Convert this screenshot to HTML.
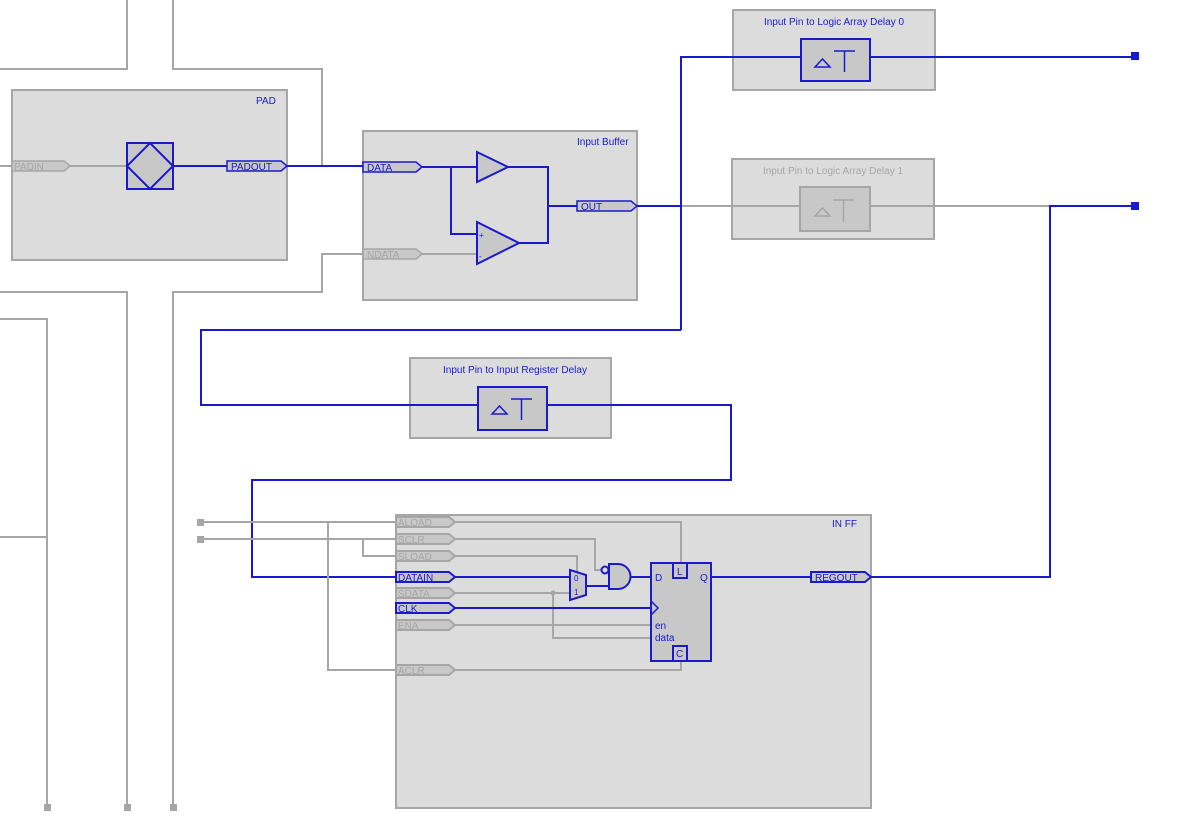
<!DOCTYPE html>
<html><head><meta charset="utf-8"><style>
html,body{margin:0;padding:0;background:#fff;}
svg{display:block;font-family:"Liberation Sans",sans-serif;}
.g{stroke:#a6a6a6;stroke-width:2;fill:none}
.b{stroke:#1a1acc;stroke-width:2;fill:none}
.box{fill:#dcdcdc;stroke:#a6a6a6;stroke-width:2}
.inb{fill:#c8c8c8;stroke:#1a1acc;stroke-width:2}
.ing{fill:#c8c8c8;stroke:#a6a6a6;stroke-width:2}
.tb{fill:#1a1acc;font-size:10px}
.tg{fill:#a6a6a6;font-size:10px}
</style></head><body>
<svg width="1200" height="838" viewBox="0 0 1200 838">
<!-- gray background wires -->
<polyline class="g" points="127,0 127,69 0,69"/>
<polyline class="g" points="173,0 173,69 322,69 322,166"/>
<polyline class="g" points="363,254 322,254 322,292 173,292 173,808"/>
<polyline class="g" points="0,292 127,292 127,808"/>
<polyline class="g" points="0,319 47,319 47,808"/>
<line class="g" x1="0" y1="537" x2="47" y2="537"/>

<!-- boxes first -->
<rect class="box" x="12" y="90" width="275" height="170"/>
<rect class="box" x="363" y="131" width="274" height="169"/>
<rect class="box" x="732" y="159" width="202" height="80"/>
<rect class="box" x="733" y="10" width="202" height="80"/>
<rect class="box" x="410" y="358" width="201" height="80"/>
<rect class="box" x="396" y="515" width="475" height="293"/>

<!-- PAD -->
<text class="tb" x="256" y="104">PAD</text>
<line class="g" x1="0" y1="166" x2="127" y2="166"/>
<polygon class="ing" points="12,161 64,161 70,166 64,171 12,171" style="stroke-width:1.5"/>
<text class="tg" x="14" y="170">PADIN</text>
<rect class="inb" x="127" y="143" width="46" height="46"/>
<polygon class="b" points="150,143 173,166 150,189 127,166"/>
<line class="b" x1="173" y1="166" x2="227" y2="166"/>
<polygon class="inb" points="227,161 281,161 287,166 281,171 227,171" style="stroke-width:1.5"/>
<text class="tb" x="231" y="170">PADOUT</text>
<line class="b" x1="287" y1="166" x2="363" y2="166"/>

<!-- Input Buffer -->
<text class="tb" x="577" y="145">Input Buffer</text>
<line class="g" x1="422" y1="254" x2="477" y2="254"/>
<polyline class="b" points="422,167 477,167"/>
<polyline class="b" points="451,167 451,234 477,234"/>
<polygon class="inb" points="363,162 416,162 422,167 416,172 363,172" style="stroke-width:1.5"/>
<text class="tb" x="367" y="171">DATA</text>
<polygon class="ing" points="363,249 416,249 422,254 416,259 363,259" style="stroke-width:1.5"/>
<text class="tg" x="367" y="258">NDATA</text>
<polygon class="inb" points="477,152 508,167 477,182"/>
<polygon class="inb" points="477,222 519,243 477,264"/>
<text class="tb" x="479" y="238" style="font-size:8px">+</text>
<text class="tb" x="479" y="259" style="font-size:8px">-</text>
<polyline class="b" points="508,167 548,167 548,243 519,243"/>
<line class="b" x1="548" y1="206" x2="577" y2="206"/>
<polygon class="inb" points="577,201 631,201 637,206 631,211 577,211" style="stroke-width:1.5"/>
<text class="tb" x="581" y="210">OUT</text>
<line class="b" x1="637" y1="206" x2="681" y2="206"/>

<!-- delay 1 gray -->
<text class="tg" x="833" y="174" text-anchor="middle">Input Pin to Logic Array Delay 1</text>
<line class="g" x1="681" y1="206" x2="1135" y2="206"/>
<rect class="ing" x="800" y="187" width="70" height="44"/>
<polygon points="815,216 830,216 822.5,208" style="fill:none;stroke:#a6a6a6;stroke-width:1.5"/>
<path d="M833,200 H854 M843.5,200 V222" style="stroke:#a6a6a6;stroke-width:1.5;fill:none"/>

<!-- delay 0 -->
<text class="tb" x="834" y="25" text-anchor="middle">Input Pin to Logic Array Delay 0</text>
<polyline class="b" points="681,330 681,57 801,57"/>
<rect class="inb" x="801" y="39" width="69" height="42"/>
<polygon points="815,67 830,67 822.5,59" style="fill:none;stroke:#1a1acc;stroke-width:1.5"/>
<path d="M834,51 H855 M844.5,51 V72" style="stroke:#1a1acc;stroke-width:1.5;fill:none"/>
<line class="b" x1="870" y1="57" x2="1135" y2="57"/>
<rect x="1131" y="52" width="8" height="8" fill="#1a1acc"/>
<rect x="1131" y="202" width="8" height="8" fill="#1a1acc"/>
<polyline class="b" points="1135,206 1050,206 1050,577 871,577"/>

<!-- register delay -->
<polyline class="b" points="681,330 201,330 201,405 478,405"/>
<text class="tb" x="515" y="373" text-anchor="middle">Input Pin to Input Register Delay</text>
<rect class="inb" x="478" y="387" width="69" height="43"/>
<polygon points="492,414 507,414 499.5,406" style="fill:none;stroke:#1a1acc;stroke-width:1.5"/>
<path d="M511,399 H532 M521.5,399 V420" style="stroke:#1a1acc;stroke-width:1.5;fill:none"/>
<polyline class="b" points="547,405 731,405 731,480 252,480 252,577 396,577"/>

<!-- IN FF -->
<text class="tb" x="832" y="527">IN FF</text>
<rect x="197" y="519" width="7" height="7" fill="#a6a6a6"/>
<rect x="197" y="536" width="7" height="7" fill="#a6a6a6"/>
<line class="g" x1="204" y1="522" x2="396" y2="522"/>
<line class="g" x1="204" y1="539" x2="396" y2="539"/>
<polyline class="g" points="328,522 328,670 396,670"/>
<polyline class="g" points="363,539 363,556 396,556"/>
<polyline class="g" points="455,522 681,522 681,563"/>
<polyline class="g" points="455,539 595,539 595,570 601,570"/>
<polyline class="g" points="455,556 577,556 577,574"/>
<polyline class="g" points="455,593 570,593"/>
<circle cx="553" cy="593" r="2.5" fill="#a6a6a6"/>
<polyline class="g" points="553,593 553,638 651,638"/>
<line class="g" x1="455" y1="625" x2="651" y2="625"/>
<polyline class="g" points="455,670 681,670 681,661"/>
<g style="stroke-width:1.5">
<polygon class="ing" points="396,517 449,517 455,522 449,527 396,527"/>
<polygon class="ing" points="396,534 449,534 455,539 449,544 396,544"/>
<polygon class="ing" points="396,551 449,551 455,556 449,561 396,561"/>
<polygon class="inb" points="396,572 449,572 455,577 449,582 396,582"/>
<polygon class="ing" points="396,588 449,588 455,593 449,598 396,598"/>
<polygon class="inb" points="396,603 449,603 455,608 449,613 396,613"/>
<polygon class="ing" points="396,620 449,620 455,625 449,630 396,630"/>
<polygon class="ing" points="396,665 449,665 455,670 449,675 396,675"/>
<polygon class="inb" points="811,572 865,572 871,577 865,582 811,582"/>
</g>
<text class="tg" x="398" y="526">ALOAD</text>
<text class="tg" x="398" y="543">SCLR</text>
<text class="tg" x="398" y="560">SLOAD</text>
<text class="tb" x="398" y="581">DATAIN</text>
<text class="tg" x="398" y="597">SDATA</text>
<text class="tb" x="398" y="612">CLK</text>
<text class="tg" x="398" y="629">ENA</text>
<text class="tg" x="398" y="674">ACLR</text>
<text class="tb" x="815" y="581">REGOUT</text>
<line class="b" x1="455" y1="577" x2="570" y2="577"/>
<polygon class="inb" points="570,570 586,575 586,595 570,600"/>
<text class="tb" x="574" y="581" style="font-size:8px">0</text>
<text class="tb" x="574" y="595" style="font-size:8px">1</text>
<polyline class="b" points="586,586 609,586"/>
<path class="inb" d="M609,564 H618 A12.5,12.5 0 0 1 618,589 H609 Z"/>
<circle class="inb" cx="605" cy="570" r="3.5" style="fill:#dcdcdc"/>
<line class="b" x1="631" y1="577" x2="651" y2="577"/>
<line class="b" x1="455" y1="608" x2="651" y2="608"/>
<rect class="inb" x="651" y="563" width="60" height="98"/>
<rect class="inb" x="673" y="563" width="14" height="15"/>
<rect class="inb" x="673" y="646" width="14" height="15"/>
<polyline class="b" points="651,601 658,608 651,615" style="stroke-width:1.5"/>
<text class="tb" x="655" y="581">D</text>
<text class="tb" x="677" y="575">L</text>
<text class="tb" x="676" y="657">C</text>
<text class="tb" x="700" y="581">Q</text>
<text class="tb" x="655" y="629">en</text>
<text class="tb" x="655" y="641">data</text>
<line class="b" x1="711" y1="577" x2="811" y2="577"/>

<!-- bottom markers -->
<rect x="44" y="804" width="7" height="7" fill="#a6a6a6"/>
<rect x="124" y="804" width="7" height="7" fill="#a6a6a6"/>
<rect x="170" y="804" width="7" height="7" fill="#a6a6a6"/>
</svg>
</body></html>
